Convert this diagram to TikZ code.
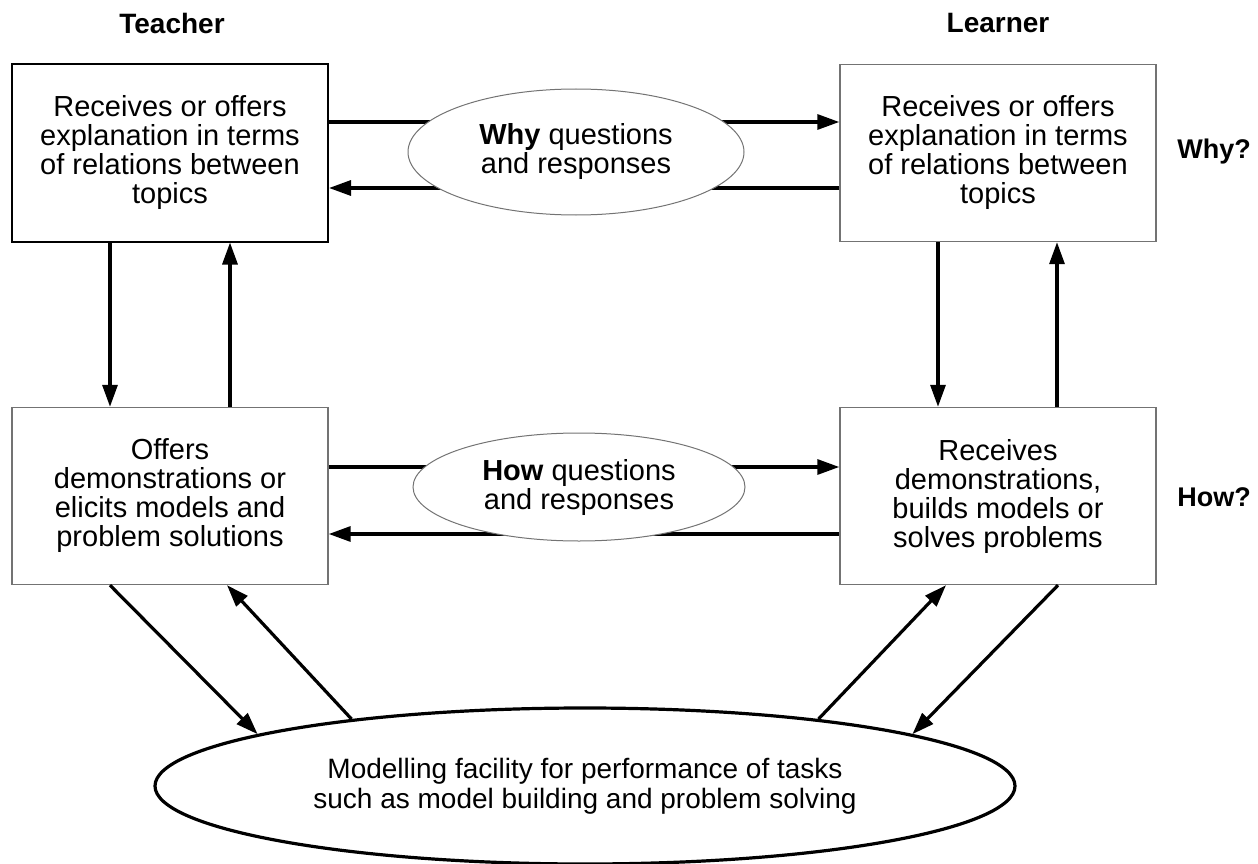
\documentclass[tikz,border=0pt]{standalone}
\usepackage{fontspec}
\setmainfont{Liberation Sans}
\usetikzlibrary{arrows.meta,shapes.geometric,backgrounds}
\newcommand{\convfont}{\linespread{1}\fontsize{29}{29}\selectfont}
\newcommand{\convheadfont}{\bfseries\fontsize{28}{29}\selectfont}
\newcommand{\convsidefont}{\bfseries\fontsize{27}{29}\selectfont}
\tikzset{
    conv/chart/.style={x=1pt, y=-1pt, font=\convfont, every node/.style={align=center}},
    conv/box/.style={rectangle, draw=black!55, line width=1.4pt, minimum width=316pt, minimum height=177pt, inner sep=0pt},
    conv/boxdark/.style={conv/box, draw=black, line width=2pt},
    conv/talk/.style={ellipse, draw=black!55, fill=white, line width=1pt, inner sep=0pt},
    conv/model/.style={ellipse, draw=black, fill=white, line width=3.2pt, minimum width=860pt, minimum height=156pt, inner sep=0pt},
    conv/head/.style={font=\convheadfont},
    conv/side/.style={font=\convsidefont},
    conv/arrow/.style={-{Triangle[length=22pt,width=15pt]}, line width=3.2pt, draw=black}
}
\begin{document}
\begin{tikzpicture}[conv/chart]
    \useasboundingbox (0,0) rectangle (1258,864);
    \node[conv/head] (teacher) at (172,23) {Teacher};
    \node[conv/head] (learner) at (998,23) {Learner};
    \node[conv/boxdark] (twhy) at (170,153) {Receives or offers\\explanation in terms\\of relations between\\topics};
    \node[conv/box] (lwhy) at (998,153) {Receives or offers\\explanation in terms\\of relations between\\topics};
    \node[conv/box] (thow) at (170,496) {Offers\\demonstrations or\\elicits models and\\problem solutions};
    \node[conv/box] (lhow) at (998,496) {Receives\\demonstrations,\\builds models or\\solves problems};
    \node[conv/side] (whylabel) at (1214,152) {Why?};
    \node[conv/side] (howlabel) at (1214,497) {How?};
    \node[conv/talk, minimum width=336pt, minimum height=126pt] (whytalk) at (576,152) {\textbf{Why} questions\\and responses};
    \node[conv/talk, minimum width=332pt, minimum height=108pt] (howtalk) at (579,487) {\textbf{How} questions\\and responses};
    \node[conv/model, font=\fontsize{28}{30}\selectfont] (model) at (585,786) {Modelling facility for performance of tasks\\such as model building and problem solving};
    \begin{scope}[on background layer]
        \draw[conv/arrow] ([yshift=31pt]twhy.east) -- ([yshift=31pt]lwhy.west);
        \draw[conv/arrow] ([yshift=-35pt]lwhy.west) -- ([yshift=-35pt]twhy.east);
        \draw[conv/arrow] ([yshift=29pt]thow.east) -- ([yshift=29pt]lhow.west);
        \draw[conv/arrow] ([yshift=-38pt]lhow.west) -- ([yshift=-38pt]thow.east);
    \end{scope}
    \draw[conv/arrow] ([xshift=-60pt]twhy.south) -- ([xshift=-60pt]thow.north);
    \draw[conv/arrow] ([xshift=60pt]thow.north) -- ([xshift=60pt]twhy.south);
    \draw[conv/arrow] ([xshift=-60pt]lwhy.south) -- ([xshift=-60pt]lhow.north);
    \draw[conv/arrow] ([xshift=59pt]lhow.north) -- ([xshift=59pt]lwhy.south);
    \draw[conv/arrow] ([xshift=-60pt]thow.south) -- (model.171);
    \draw[conv/arrow] (model.164) -- ([xshift=57pt]thow.south);
    \draw[conv/arrow] (model.16) -- ([xshift=-52pt]lhow.south);
    \draw[conv/arrow] ([xshift=60pt]lhow.south) -- (model.9);
\end{tikzpicture}
\end{document}
